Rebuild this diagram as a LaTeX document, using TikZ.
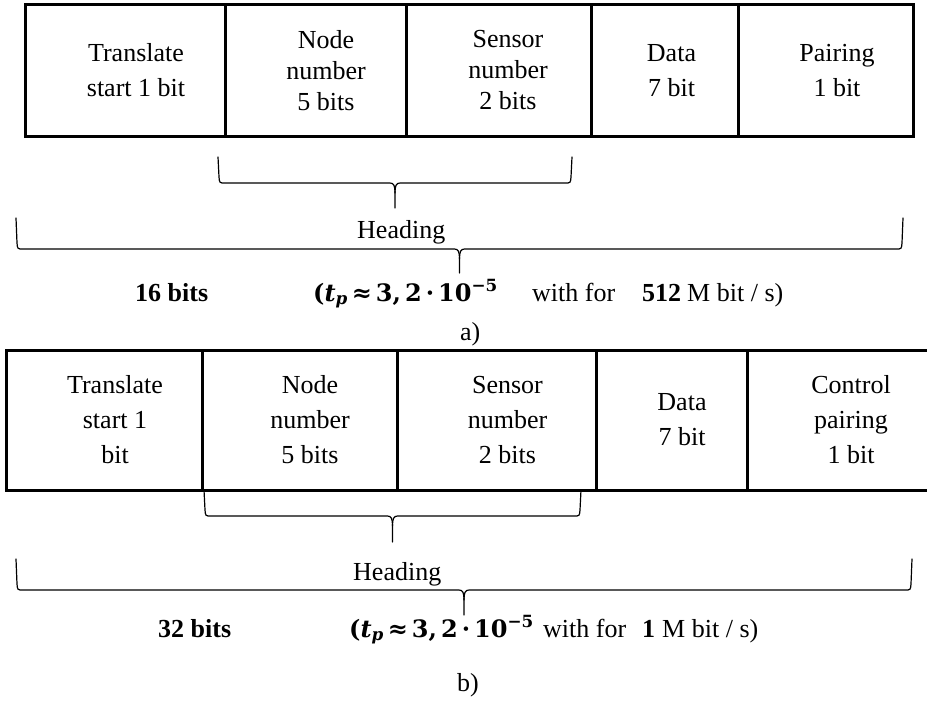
\documentclass[tikz,border=0pt]{standalone}
\usepackage{fontspec}
\setmainfont{Liberation Serif}
\newfontfamily\mathf{DejaVu Serif}
\newcommand{\hbr}[6]{% name, x1, x2, ytop, yline, ytip
  \pgfmathsetmacro\xm{(#2+#3)/2}
  \coordinate (#1-l) at (#2,#4);
  \coordinate (#1-r) at (#3,#4);
  \coordinate (#1-tip) at (\xm,#6);
  \draw[brace] (#1-l) -- (#2+1,#5-6) .. controls (#2+1.5,#5) .. (#2+7,#5) -- (\xm-5,#5) .. controls (\xm-1,#5) and (\xm,#5+3) .. (\xm,#5+10) -- (#1-tip);
  \draw[brace] (#1-r) -- (#3-1,#5-6) .. controls (#3-1.5,#5) .. (#3-7,#5) -- (\xm+5,#5) .. controls (\xm+1,#5) and (\xm,#5+3) .. (\xm,#5+10);
}
\newcommand{\tpform}{{\mathf\bfseries(\textit{t}\textsubscript{\itshape p}\,≈\,3,\,2\,·\,10\textsuperscript{−5}}}
\begin{document}
\begin{tikzpicture}[x=1pt,y=-1pt,
  every node/.style={font=\fontsize{26}{33}\selectfont},
  cellbox/.style={draw, line width=3pt, inner sep=0pt, outer sep=0pt, minimum height=#1},
  txt/.style={align=center, inner sep=0pt},
  brace/.style={line width=1.2pt, line cap=round},
  lab/.style={anchor=base west, inner sep=0pt},
  blab/.style={anchor=base west, inner sep=0pt, font=\fontsize{26}{33}\selectfont\bfseries},
  mth/.style={anchor=base west, inner sep=0pt, font=\fontsize{24}{30}\selectfont}]
\useasboundingbox (0,0) rectangle (927,701);
% ---------- table a ----------
\node[cellbox=131pt, minimum width=200pt] (a1) at (125,70.5) {};
\node[cellbox=131pt, minimum width=181pt] (a2) at (315.5,70.5) {};
\node[cellbox=131pt, minimum width=185pt] (a3) at (498.5,70.5) {};
\node[cellbox=131pt, minimum width=147pt] (a4) at (664.5,70.5) {};
\node[cellbox=131pt, minimum width=175pt] (a5) at (825.5,70.5) {};
\node[txt, font=\fontsize{26}{35}\selectfont] (ta1) at (136,70.5) {Translate\\start 1 bit};
\node[txt, font=\fontsize{26}{31}\selectfont] (ta2) at (326,70.5) {Node\\number\\5 bits};
\node[txt, font=\fontsize{26}{31}\selectfont] (ta3) at (508,70.5) {Sensor\\number\\2 bits};
\node[txt, font=\fontsize{26}{35}\selectfont] (ta4) at (671.5,70.5) {Data\\7 bit};
\node[txt, font=\fontsize{26}{35}\selectfont] (ta5) at (837,70.5) {Pairing\\1 bit};
% braces a
\hbr{sa}{218}{572}{157}{183}{208}
\node[lab] (ha) at (357,238) {Heading};
\hbr{la}{16}{903}{218}{249}{273}
% line a
\node[blab] (bitsa) at (135,301) {16 bits};
\node[mth] (ma) at (313,301) {\tpform};
\node[lab] (wa) at (532,301) {with for};
\node[blab] (na) at (642,301) {512};
\node[lab] (ua) at (687,301) {M bit / s)};
\node[lab] (capa) at (460,340) {a)};
% ---------- table b ----------
\node[cellbox=140pt, minimum width=196pt] (b1) at (104,420) {};
\node[cellbox=140pt, minimum width=195pt] (b2) at (299.5,420) {};
\node[cellbox=140pt, minimum width=199pt] (b3) at (496.5,420) {};
\node[cellbox=140pt, minimum width=151pt] (b4) at (671.5,420) {};
\coordinate (bend1) at (927,350);
\coordinate (bend2) at (927,490);
\draw[line width=3pt] (b4.north east) -- (bend1);
\draw[line width=3pt] (b4.south east) -- (bend2);
\node[txt, font=\fontsize{26}{35}\selectfont] (tb1) at (115,420) {Translate\\start 1\\bit};
\node[txt, font=\fontsize{26}{35}\selectfont] (tb2) at (310,420) {Node\\number\\5 bits};
\node[txt, font=\fontsize{26}{35}\selectfont] (tb3) at (507.5,420) {Sensor\\number\\2 bits};
\node[txt, font=\fontsize{26}{35}\selectfont] (tb4) at (682,420) {Data\\7 bit};
\node[txt, font=\fontsize{26}{35}\selectfont] (tb5) at (851,420) {Control\\pairing\\1 bit};
% braces b
\hbr{sb}{204}{581}{490}{516}{542}
\node[lab] (hb) at (353,580) {Heading};
\hbr{lb}{16}{912}{559}{590}{615}
% line b
\node[blab] (bitsb) at (158,637) {32 bits};
\node[mth] (mb) at (349,637) {\tpform};
\node[lab] (wb) at (543,637) {with for};
\node[blab] (nb) at (642,637) {1};
\node[lab] (ub) at (662,637) {M bit / s)};
\node[lab] (capb) at (457,691) {b)};
\end{tikzpicture}
\end{document}
